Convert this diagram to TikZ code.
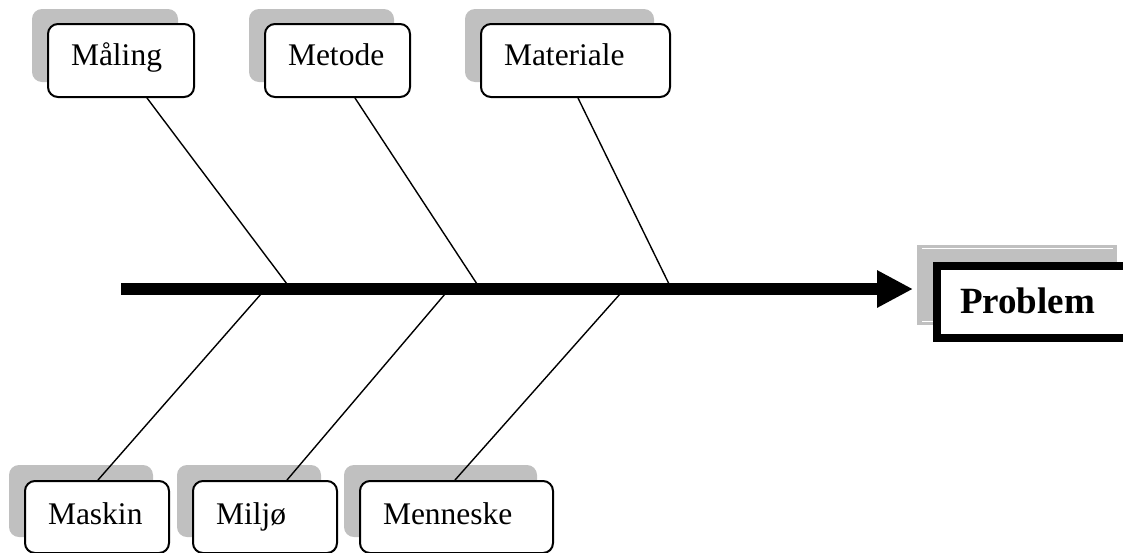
\documentclass[tikz,border=0pt]{standalone}
\usepackage{fontspec}
\setmainfont{Liberation Serif}
\usetikzlibrary{arrows.meta,calc}
\definecolor{shadowgray}{HTML}{C0C0C0}
\tikzset{
  causebox/.style={draw=black, line width=2pt, rounded corners=10pt, fill=white,
    inner xsep=23pt, inner ysep=0pt, align=left,
    font=\fontsize{31.5}{36}\selectfont},
  topcause/.style={causebox, minimum height=73pt, text height=22pt, text depth=13pt},
  botcause/.style={causebox, minimum height=72pt, text height=24pt, text depth=10pt},
  shade box/.style={fill=shadowgray, rounded corners=10pt, inner sep=0pt,
    minimum height=73pt},
  bone/.style={line width=1.4pt},
  spine/.style={line width=11.5pt, -{Triangle[length=36pt,width=35pt]}},
}
\begin{document}
\begin{tikzpicture}[x=1pt,y=-1pt]
\clip (0,0) rectangle (1123,552);
\fill[white] (0,0) rectangle (1123,552);
% shadows of cause boxes
\node[shade box, minimum width=146pt] (s1) at (105,45.5) {};
\node[shade box, minimum width=145pt] (s2) at (321.5,45.5) {};
\node[shade box, minimum width=189pt] (s3) at (559.5,45.5) {};
\node[shade box, minimum width=144pt, minimum height=72pt] (s4) at (81,501) {};
\node[shade box, minimum width=144pt, minimum height=72pt] (s5) at (249,501) {};
\node[shade box, minimum width=193pt, minimum height=72pt] (s6) at (440.5,501) {};
% problem shadow
\node[fill=shadowgray, inner sep=0pt, minimum width=200pt, minimum height=80pt] (sp) at (1017,285) {};
\draw[white, line width=1pt] ($(sp.north west)+(5,4)$) -- ($(sp.north east)+(-4,4)$);
\draw[white, line width=1pt] ($(sp.south west)+(5,-4)$) -- ($(sp.south east)+(-4,-4)$);
% cause boxes
\node[topcause, text width=100pt] (m1) at (121,60.5) {Måling};
\node[topcause, text width=99pt] (m2) at (337.5,60.5) {Metode};
\node[topcause, text width=143pt] (m3) at (575.5,60.5) {Materiale};
\node[botcause, text width=98pt] (m4) at (97,517) {Maskin};
\node[botcause, text width=98pt] (m5) at (265,517) {Miljø};
\node[botcause, text width=147pt] (m6) at (456.5,517) {Menneske};
% problem box
\node[draw=black, line width=8pt, fill=white, inner xsep=23pt, inner ysep=0pt,
  minimum height=72pt, text width=146pt, text height=28pt, text depth=6pt, align=left,
  font=\fontsize{37}{40}\selectfont\bfseries] (prob) at (1033,302) {Problem};
% spine
\coordinate (start) at (121,289);
\coordinate (tip) at (913,289);
\draw[spine] (start) -- (tip);
% junctions on spine
\coordinate (j1) at (287,284);
\coordinate (j2) at (477,284);
\coordinate (j3) at (669,284);
\coordinate (k1) at (261,294);
\coordinate (k2) at (445,294);
\coordinate (k3) at (620,294);
% bones
\draw[bone] ([xshift=26pt]m1.south) -- (j1);
\draw[bone] ([xshift=17.5pt]m2.south) -- (j2);
\draw[bone] ([xshift=2.5pt]m3.south) -- (j3);
\draw[bone] ([xshift=1pt]m4.north) -- (k1);
\draw[bone] ([xshift=22pt]m5.north) -- (k2);
\draw[bone] ([xshift=-1.5pt]m6.north) -- (k3);
\end{tikzpicture}
\end{document}
